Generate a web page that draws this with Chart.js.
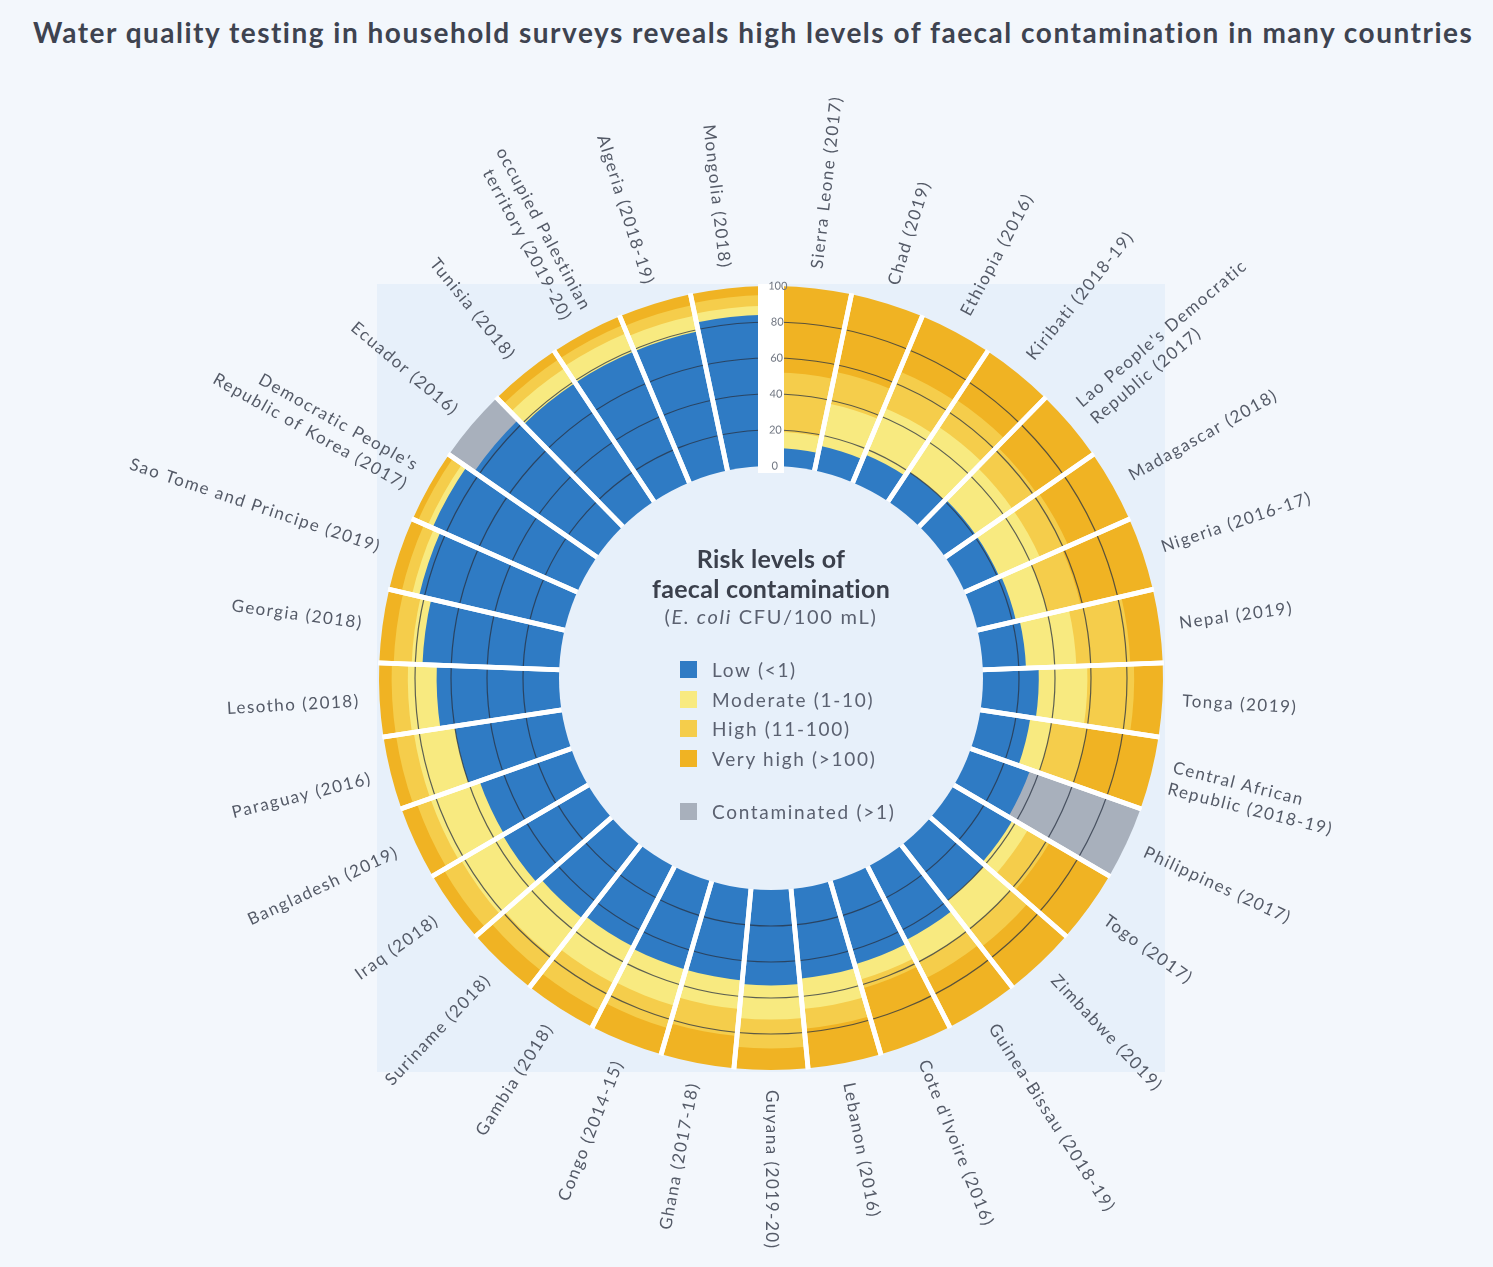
<!DOCTYPE html>
<html>
<head>
<meta charset="utf-8">
<script src="https://cdn.jsdelivr.net/npm/chart.js@4.4.1/dist/chart.umd.min.js"></script>
<style>
    html, body { margin: 0; padding: 0; background: #f3f7fc; }
    #wrap { position: relative; width: 1493px; height: 1267px; overflow: hidden; }
    #title {
        position: absolute; left: 33px; top: 18px; white-space: nowrap;
        font: 700 28px Lato, sans-serif; line-height: 28px; color: #3e4350; letter-spacing: 1.5px;
    }
    #chartBox { position: absolute; left: 0; top: 0; width: 1493px; height: 1267px; }
    #key { position: absolute; left: 571px; top: 543px; width: 400px; font-family: Lato, sans-serif; }
    #key .kh { text-align: center; font-weight: 700; font-size: 25px; line-height: 30px; color: #3b404c; letter-spacing: 0.3px; }
    #key .ks { text-align: center; font-size: 20px; line-height: 26px; color: #5b6170; letter-spacing: 1.7px; }
    #keyItems { list-style: none; margin: 0; padding: 0; position: absolute; left: 109px; top: 112px; }
    #keyItems li { display: flex; align-items: center; height: 29.6px; font-size: 19px; color: #5b6170; letter-spacing: 1.7px; white-space: nowrap; }
    #keyItems li.sep { margin-top: 23px; }
    #keyItems span { display: inline-block; width: 17px; height: 17px; margin-right: 15px; }
</style>
</head>
<body>
<div id="wrap">
    <div id="title">Water quality testing in household surveys reveals high levels of faecal contamination in many countries</div>
    <div id="chartBox"><canvas id="ringChart"></canvas></div>
    <div id="key">
        <div class="kh">Risk levels of<br>faecal contamination</div>
        <div class="ks">(<i>E. coli</i> CFU/100 mL)</div>
        <ul id="keyItems"></ul>
    </div>
</div>
<script>
const countries = [
    "Sierra Leone (2017)", "Chad (2019)", "Ethiopia (2016)", "Kiribati (2018-19)",
    ["Lao People's Democratic", "Republic (2017)"], "Madagascar (2018)", "Nigeria (2016-17)",
    "Nepal (2019)", "Tonga (2019)", ["Central African", "Republic (2018-19)"], "Philippines (2017)",
    "Togo (2017)", "Zimbabwe (2019)", "Guinea-Bissau (2018-19)", "Cote d'Ivoire (2016)",
    "Lebanon (2016)", "Guyana (2019-20)", "Ghana (2017-18)", "Congo (2014-15)", "Gambia (2018)",
    "Suriname (2018)", "Iraq (2018)", "Bangladesh (2019)", "Paraguay (2016)", "Lesotho (2018)",
    "Georgia (2018)", "Sao Tome and Principe (2019)", ["Democratic People's", "Republic of Korea (2017)"],
    "Ecuador (2016)", "Tunisia (2018)", ["occupied Palestinian", "territory (2019-20)"],
    "Algeria (2018-19)", "Mongolia (2018)"
]

// percent of households per risk level
const low =          [10, 14, 17, 20, 21, 21, 22, 24, 31, 28, 35, 38, 40, 46, 48, 50, 53, 51, 51, 50, 52, 55, 54, 60, 68, 76, 83, 88, 83, 79, 79, 79, 84]
const moderate =     [ 9, 24, 28, 30, 25, 25, 18, 28, 27, 12,  0, 10, 20, 14,  9, 17, 19, 16, 21, 23, 27, 27, 29, 23, 16,  6,  4,  3,  0, 10, 11,  9,  5]
const high =         [33, 18, 22, 18, 16, 17, 19, 30, 26, 20,  0, 14, 12, 10,  5, 11, 16, 15, 13, 17, 10, 11,  8, 10,  9, 10,  6,  6,  0,  6,  5,  6,  6]
const veryHigh =     [48, 44, 33, 32, 38, 37, 41, 18, 16, 40,  0, 38, 28, 30, 38, 22, 12, 18, 15, 10, 11,  7,  9,  7,  7,  8,  7,  3,  0,  5,  5,  6,  5]
const contaminated = [ 0,  0,  0,  0,  0,  0,  0,  0,  0,  0, 65,  0,  0,  0,  0,  0,  0,  0,  0,  0,  0,  0,  0,  0,  0,  0,  0,  0, 17,  0,  0,  0,  0]

const tickValues = [0, 20, 40, 60, 80, 100]
const seriesNames = ["Low (<1)", "Moderate (1-10)", "High (11-100)", "Very high (>100)", "Contaminated (>1)"]
const seriesColors = ["#2f7bc4", "#f8ea80", "#f5cd4b", "#f0b323", "#a8b0bc"]

const series = [low, moderate, high, veryHigh, contaminated]
const panelColor = "#e7f0fa"
const holeRatio = 212 / 392
const gapDeg = 2
const labelRadius = 412


function stacked(k) {
    return countries.map((c, i) => {
        if (!series[k][i]) return 0
        let sum = 0
        for (let j = 0; j <= k; j++) sum += series[j][i]
        return sum
    })
}


const ringPlugin = {
    id: "ring",
    beforeDraw(chart) {
        const s = chart.scales.r
        const ctx = chart.ctx
        const d = s.drawingArea + 2
        ctx.save()
        ctx.fillStyle = panelColor
        ctx.fillRect(s.xCenter - d, s.yCenter - d, d * 2, d * 2)
        ctx.restore()
    },
    afterDatasetsDraw(chart) {
        const s = chart.scales.r
        const ctx = chart.ctx
        const cx = s.xCenter, cy = s.yCenter
        const r0 = s.getDistanceFromCenterForValue(0)
        const r100 = s.getDistanceFromCenterForValue(100)
        ctx.save()

        ctx.strokeStyle = "rgba(40, 50, 65, 0.75)"
        ctx.lineWidth = 1.2
        tickValues.filter(v => v > 0 && v < 100).forEach(v => {
            ctx.beginPath()
            ctx.arc(cx, cy, s.getDistanceFromCenterForValue(v), 0, Math.PI * 2)
            ctx.stroke()
        })

        ctx.strokeStyle = "#ffffff"
        ctx.lineWidth = 4.8
        chart.getDatasetMeta(0).data.forEach(arc => {
            [arc.startAngle, arc.endAngle].forEach(a => {
                ctx.beginPath()
                ctx.moveTo(cx + Math.cos(a) * (r0 - 2), cy + Math.sin(a) * (r0 - 2))
                ctx.lineTo(cx + Math.cos(a) * (r100 + 1), cy + Math.sin(a) * (r100 + 1))
                ctx.stroke()
            })
        })

        ctx.fillStyle = panelColor
        ctx.beginPath()
        ctx.arc(cx, cy, r0, 0, Math.PI * 2)
        ctx.fill()

        ctx.fillStyle = "#ffffff"
        ctx.fillRect(cx - 13, cy - r100 - 2, 26, r100 - r0 + 9)
        ctx.restore()
    },
    afterDraw(chart) {
        const s = chart.scales.r
        const ctx = chart.ctx
        ctx.save()
        ctx.font = "17px Lato"
        ctx.letterSpacing = "1.5px"
        ctx.fillStyle = "#545a67"
        ctx.textBaseline = "middle"
        chart.getDatasetMeta(0).data.forEach((arc, i) => {
            const mid = (arc.startAngle + arc.endAngle) / 2
            const lines = [].concat(chart.data.labels[i])
            const leftSide = mid > Math.PI / 2 + 0.01
            ctx.save()
            ctx.translate(s.xCenter + Math.cos(mid) * labelRadius, s.yCenter + Math.sin(mid) * labelRadius)
            ctx.rotate(leftSide ? mid + Math.PI : mid)
            ctx.textAlign = leftSide ? "right" : "left"
            lines.forEach((line, k) => {
                ctx.fillText(line, 0, (k - (lines.length - 1) / 2) * 22)
            })
            ctx.restore()
        })
        ctx.restore()
    }
}


function renderKey() {
    const list = document.getElementById("keyItems")
    seriesNames.forEach((name, i) => {
        const li = document.createElement("li")
        if (i == seriesNames.length - 1) li.className = "sep"
        li.innerHTML = `<span style="background:${seriesColors[i]}"></span>${name.replace("<", "&lt;").replace(">", "&gt;")}`
        list.appendChild(li)
    })
}


function createRingChart() {

    new Chart(document.getElementById("ringChart"), {
        type: "polarArea",
        data: {
            labels: countries,
            datasets: series.map((values, k) => ({
                label: seriesNames[k],
                data: stacked(k),
                backgroundColor: seriesColors[k],
                borderWidth: 0,
                angle: (360 - gapDeg) / countries.length
            }))
        },
        options: {
            responsive: true,
            maintainAspectRatio: false,
            animation: false,
            events: [],
            layout: {
                padding: { left: 374, top: 281, right: 324, bottom: 191 }
            },
            plugins: {
                legend: { display: false },
                tooltip: { enabled: false }
            },
            scales: {
                r: {
                    min: -100 * holeRatio / (1 - holeRatio),
                    max: 100,
                    startAngle: gapDeg / 2,
                    afterBuildTicks: axis => {
                        axis.ticks = tickValues.map(v => ({ value: v }))
                    },
                    grid: { display: false },
                    angleLines: { display: false },
                    pointLabels: { display: false },
                    ticks: {
                        z: 1,
                        showLabelBackdrop: false,
                        backdropPadding: 0,
                        color: "#6f7580",
                        font: { family: "Lato", size: 11 }
                    }
                }
            }
        },
        plugins: [ringPlugin]
    })

}

renderKey()
createRingChart()
</script>
</body>
</html>
